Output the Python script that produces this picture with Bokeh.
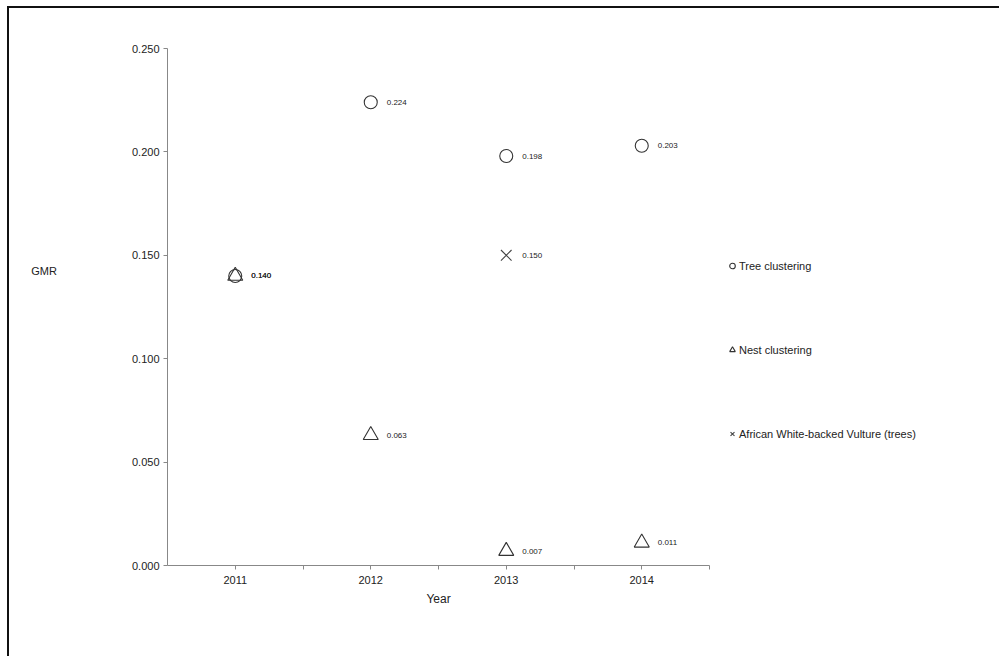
from bokeh.plotting import figure
from bokeh.models import ColumnDataSource, Legend, LegendItem, FixedTicker, NumeralTickFormatter
from bokeh.embed import file_html
from bokeh.resources import INLINE
from bokeh.core.properties import value

years = ["2011", "2012", "2013", "2014"]
tree_values = [0.140, 0.224, 0.198, 0.203]
nest_values = [0.140, 0.063, 0.007, 0.011]
vulture_years = ["2013"]
vulture_values = [0.150]

FONT = "Liberation Sans"
INK = "#222222"

def idx(ys):
    return [years.index(y) for y in ys]

def fmt(vals):
    return ["%.3f" % v for v in vals]

tree_src = ColumnDataSource(dict(x=idx(years), y=tree_values, t=fmt(tree_values)))
nest_src = ColumnDataSource(dict(x=idx(years), y=nest_values, t=fmt(nest_values)))
vul_src = ColumnDataSource(dict(x=idx(vulture_years), y=vulture_values, t=fmt(vulture_values)))

p = figure(frame_width=542, frame_height=517, x_range=(-0.5, 3.5), y_range=(0, 0.25),
           output_backend="svg", toolbar_location=None,
           min_border_left=158, min_border_right=0, min_border_top=40, min_border_bottom=91)
p.styles = {"border-top": "2px solid #111", "border-left": "2px solid #111",
            "margin-left": "7px", "margin-top": "6px"}
p.outline_line_color = None
p.xgrid.visible = False
p.ygrid.visible = False

r_tree = p.scatter("x", "y", source=tree_src, marker="circle", size=13,
                   fill_color=None, line_color="#333333", line_width=1.1)
r_nest = p.scatter("x", "y", source=nest_src, marker="triangle", size=15,
                   fill_color=None, line_color="#333333", line_width=1.1)
r_vul = p.scatter("x", "y", source=vul_src, marker="x", size=15,
                  line_color="#444444", line_width=1.1)

for src in (tree_src, nest_src, vul_src):
    p.text("x", "y", text="t", source=src, x_offset=16, text_baseline="middle",
           text_font=value(FONT), text_font_size="8px", text_color=INK)

# axes
p.xaxis.ticker = FixedTicker(ticks=[0, 0.5, 1, 1.5, 2, 2.5, 3, 3.5])
p.xaxis.major_label_overrides = {0: "2011", 1: "2012", 2: "2013", 3: "2014",
                                 0.5: "", 1.5: "", 2.5: "", 3.5: ""}
p.xaxis.minor_tick_line_color = None
p.xaxis.major_tick_in = 0
p.xaxis.major_tick_out = 4
p.xaxis.axis_label = "Year"
p.xaxis.axis_label_standoff = 5
p.xaxis.major_label_standoff = 6

p.yaxis.ticker = FixedTicker(ticks=[0, 0.05, 0.1, 0.15, 0.2, 0.25])
p.yaxis.formatter = NumeralTickFormatter(format="0.000")
p.yaxis.minor_tick_line_color = None
p.yaxis.major_tick_in = 0
p.yaxis.major_tick_out = 4
p.yaxis.major_label_standoff = 4
p.yaxis.axis_label = "GMR\n\n\n\n\n"
p.yaxis.axis_label_orientation = "horizontal"
p.yaxis.axis_label_standoff = 72

for ax in (p.xaxis, p.yaxis):
    ax.axis_line_color = "#888888"
    ax.major_tick_line_color = "#888888"
    ax.major_label_text_font = FONT
    ax.major_label_text_font_size = "11px"
    ax.major_label_text_color = INK
    ax.axis_label_text_font = FONT
    ax.axis_label_text_font_style = "normal"
    ax.axis_label_text_color = INK
p.xaxis.axis_label_text_font_size = "12px"
p.yaxis.axis_label_text_font_size = "11px"

legend = Legend(items=[LegendItem(label="Tree clustering", renderers=[r_tree]),
                       LegendItem(label="Nest clustering", renderers=[r_nest]),
                       LegendItem(label="African White-backed Vulture (trees)", renderers=[r_vul])],
                location=(16, 124), orientation="vertical",
                glyph_width=14, glyph_height=15, label_height=14, label_standoff=0,
                spacing=69, padding=0, margin=0, border_line_color=None,
                background_fill_alpha=0, label_text_font=FONT,
                label_text_font_size="11px", label_text_color=INK)
p.add_layout(legend, "right")

open("out.html", "w").write(file_html(p, INLINE))
